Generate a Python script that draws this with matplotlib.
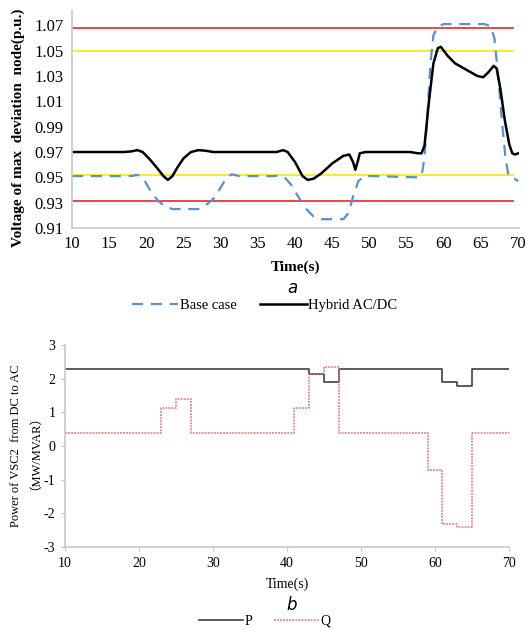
import matplotlib
matplotlib.use("Agg")
import matplotlib.pyplot as plt
from matplotlib.lines import Line2D

plt.rcParams['font.family'] = ['Liberation Serif', 'DejaVu Serif']
plt.rcParams['axes.unicode_minus'] = False

# --- panel a: voltage of max deviation node ---
t_hybrid = [10, 17, 18, 18.8, 19.5, 20.5, 21.5, 22.3, 22.9, 23.5, 24.2, 25, 26, 27,
            28, 29, 35, 37.5, 38.4, 39, 40, 41, 41.7, 42.5, 43.5, 45, 46.5, 47.3,
            47.8, 48.1, 48.4, 48.7, 49.5, 55.5, 56.5, 57.0, 57.4, 58, 58.6, 59.2,
            59.6, 60.5, 61.5, 63, 64.5, 65.3, 66, 66.7, 67.1, 67.6, 68.2, 68.8,
            69.2, 69.6, 70]
v_hybrid = [0.970, 0.970, 0.9705, 0.9715, 0.970, 0.964, 0.957, 0.951, 0.948, 0.951,
            0.958, 0.965, 0.970, 0.9715, 0.971, 0.970, 0.970, 0.970, 0.9715, 0.970,
            0.962, 0.951, 0.948, 0.949, 0.953, 0.961, 0.967, 0.968, 0.962, 0.956,
            0.962, 0.969, 0.970, 0.970, 0.969, 0.969, 0.975, 1.010, 1.040, 1.052,
            1.053, 1.046, 1.040, 1.035, 1.030, 1.029, 1.033, 1.038, 1.036, 1.020,
            0.995, 0.976, 0.969, 0.968, 0.969]

t_base = [10, 18, 18.8, 19.5, 20.5, 21.5, 22.5, 23.5, 27, 28, 29, 30, 30.8, 31.5,
          32.5, 37, 38, 38.6, 39.5, 40.5, 41.5, 42.5, 43.5, 46.5, 47.2, 47.8, 48.5,
          49.3, 50.5, 56.5, 57, 57.4, 57.8, 58.2, 58.6, 59.2, 60, 65.5, 66.3, 66.8,
          67.3, 67.8, 68.3, 68.7, 69, 69.5, 70]
v_base = [0.951, 0.951, 0.952, 0.950, 0.940, 0.932, 0.927, 0.925, 0.925, 0.928,
          0.933, 0.942, 0.950, 0.9525, 0.951, 0.951, 0.9515, 0.950, 0.944, 0.934,
          0.925, 0.919, 0.917, 0.917, 0.922, 0.935, 0.947, 0.951, 0.951, 0.950,
          0.951, 0.965, 1.000, 1.040, 1.062, 1.069, 1.071, 1.071, 1.069, 1.060,
          1.030, 0.995, 0.965, 0.951, 0.950, 0.949, 0.947]

red_limits = [1.068, 0.931]
yellow_limits = [1.050, 0.952]
yticks_a = [0.91, 0.93, 0.95, 0.97, 0.99, 1.01, 1.03, 1.05, 1.07]
xticks_a = [10, 15, 20, 25, 30, 35, 40, 45, 50, 55, 60, 65, 70]

# --- panel b: power of VSC2 ---
t_step = [10, 23, 25, 27, 41, 43, 45, 47, 59, 61, 63, 65, 70]
p_step = [2.3, 2.3, 2.3, 2.3, 2.3, 2.15, 1.9, 2.3, 2.3, 1.9, 1.8, 2.3, 2.3]
q_step = [0.4, 1.12, 1.4, 0.4, 1.12, 2.15, 2.35, 0.4, -0.7, -2.32, -2.4, 0.4, 0.4]
xticks_b = [10, 20, 30, 40, 50, 60, 70]
yticks_b = [-3, -2, -1, 0, 1, 2, 3]

fig = plt.figure(figsize=(5.29, 6.30), dpi=100)
spine_c = '#c8c8c8'

ax = fig.add_axes([0.136, 0.638, 0.845, 0.346])
for y in red_limits:
    ax.plot([10, 69.3], [y, y], color='#e8393a', lw=1.3)
for y in yellow_limits:
    ax.plot([10, 69.3], [y, y], color='#f2ee1a', lw=1.3)
ax.plot(t_base, v_base, color='#5b8fcf', lw=1.6, dashes=(5, 3.5))
ax.plot(t_hybrid, v_hybrid, color='black', lw=1.8)
ax.set_xlim(10, 70.1)
ax.set_ylim(0.91, 1.082)
ax.set_xticks(xticks_a)
ax.set_yticks(yticks_a)
ax.set_yticklabels(['%.2f' % v for v in yticks_a])
ax.tick_params(length=0, labelsize=12, pad=6)
for s in ['top', 'right']:
    ax.spines[s].set_visible(False)
for s in ['left', 'bottom']:
    ax.spines[s].set_color(spine_c)
    ax.spines[s].set_linewidth(1.2)
ax.set_xlabel('Time(s)', fontweight='bold', fontsize=11, labelpad=6)
ax.set_ylabel('Voltage of max  deviation  node(p.u.)', fontweight='bold',
              fontsize=11)
ax.yaxis.set_label_coords(-0.104, 0.46)
fig.text(0.553, 0.543, 'a', fontsize=12, style='italic', family='DejaVu Sans',
         ha='center', va='center')
handles_a = [Line2D([], [], color='#5b8fcf', lw=1.6, dashes=(5, 3.5)),
             Line2D([], [], color='black', lw=1.8)]
fig.legend(handles_a, ['Base case', 'Hybrid AC/DC'], loc='center',
           bbox_to_anchor=(0.5, 0.515), ncol=2, frameon=False, fontsize=10.5,
           handlelength=3.2, handletextpad=0.1, columnspacing=1.6)

bx = fig.add_axes([0.123, 0.132, 0.839, 0.32])
bx.step(t_step, p_step, where='post', color='#404040', lw=1.2)
bx.step(t_step, q_step, where='post', color='#e07070', lw=1.1, ls=(0, (1.2, 0.8)))
bx.set_xlim(10, 70)
bx.set_ylim(-3, 3)
bx.set_xticks(xticks_b)
bx.set_yticks(yticks_b)
bx.tick_params(length=3, color=spine_c, labelsize=10, pad=4)
for s in ['top', 'right']:
    bx.spines[s].set_visible(False)
for s in ['left', 'bottom']:
    bx.spines[s].set_color(spine_c)
    bx.spines[s].set_linewidth(1.2)
bx.set_xlabel('Time(s)', fontsize=10, labelpad=6)
bx.set_ylabel('Power of VSC2  from DC to AC\n\uff08MW/MVAR\uff09', fontsize=9,
              labelpad=6, family=['Liberation Serif', 'Noto Sans CJK SC'])
fig.text(0.552, 0.040, 'b', fontsize=12, style='italic', family='DejaVu Sans',
         ha='center', va='center')
handles_b = [Line2D([], [], color='#404040', lw=1.2),
             Line2D([], [], color='#e07070', lw=1.1, ls=(0, (1.2, 0.8)))]
fig.legend(handles_b, ['P', 'Q'], loc='center', bbox_to_anchor=(0.5, 0.014),
           ncol=2, frameon=False, fontsize=10, handlelength=3.2,
           handletextpad=0.1, columnspacing=1.6)

fig.savefig('out.png', dpi=100)
